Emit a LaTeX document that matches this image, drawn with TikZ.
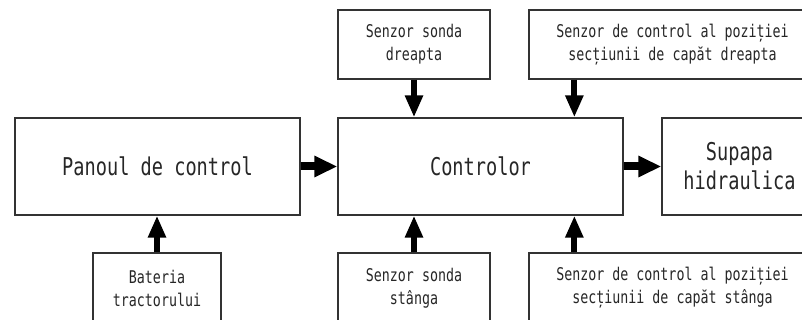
\documentclass[tikz,border=0pt]{standalone}
\usepackage{fontspec}
\newfontfamily\cad[FakeStretch=0.76]{DejaVu Sans Mono}
\usetikzlibrary{arrows.meta}
\begin{document}
\begin{tikzpicture}[x=1pt,y=-1pt,
  box/.style={draw=black!80, line width=1.3pt, inner sep=0pt, align=center, text=black!85,
    font=\cad\fontsize{17.5}{23}\selectfont},
  bigbox/.style={box, font=\cad\fontsize{24.5}{29}\selectfont},
  harrow/.style={line width=8pt, -{Triangle[length=23pt,width=20pt]}},
  varrow/.style={line width=6pt, -{Triangle[length=22pt,width=17pt]}}]
\clip (0,0) rectangle (802,320);
\fill[white] (0,0) rectangle (802,320);
\node[bigbox, minimum width=285pt, minimum height=97pt] (pan) at (157.5,166.5) {Panoul de control};
\node[bigbox, minimum width=285pt, minimum height=97pt] (ctl) at (480.5,166.5) {Controlor};
\node[bigbox, minimum width=155pt, minimum height=97pt] (sup) at (739.5,166.5) {Supapa\\hidraulica};
\node[box, minimum width=152pt, minimum height=69pt] (sd) at (414,44.5) {Senzor sonda\\dreapta};
\node[box, minimum width=287pt, minimum height=69pt] (cd) at (672.5,44.5) {Senzor de control al poziției\\secțiunii de capăt dreapta};
\node[box, minimum width=128pt, minimum height=70pt] (bat) at (157,288) {Bateria\\tractorului};
\node[box, minimum width=152pt, minimum height=70pt] (ss) at (414,288) {Senzor sonda\\stânga};
\node[box, minimum width=287pt, minimum height=70pt] (cs) at (672.5,288) {Senzor de control al poziției\\secțiunii de capăt stânga};
\draw[harrow] (pan) -- (ctl);
\draw[harrow] (ctl) -- (sup);
\draw[varrow] (sd.south) -- (sd.south |- ctl.north);
\draw[varrow] ([xshift=46pt]cd.south west) -- ([xshift=46pt]cd.south west |- ctl.north);
\draw[varrow] (ss.north) -- (ss.north |- ctl.south);
\draw[varrow] ([xshift=46pt]cs.north west) -- ([xshift=46pt]cs.north west |- ctl.south);
\draw[varrow] (bat.north) -- (bat.north |- pan.south);
\end{tikzpicture}
\end{document}
